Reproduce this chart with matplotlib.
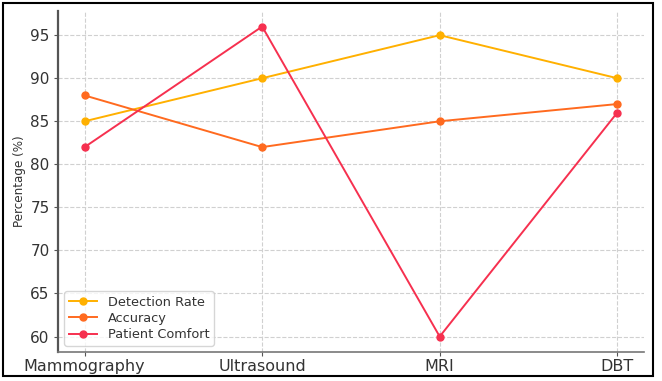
import matplotlib.pyplot as plt
from matplotlib.patches import Rectangle

# dados
modalidades = ["Mammography", "Ultrasound", "MRI", "DBT"]
deteccao = [85, 90, 95, 90]
acuracia = [88, 82, 85, 87]
conforto = [82, 96, 60, 86]

COR_DET = "#FFB000"
COR_ACU = "#FF6A1F"
COR_CONF = "#F6304F"

fig = plt.figure(figsize=(6.62, 3.81), dpi=100)
ax = fig.add_axes([0.0876, 0.076, 0.885, 0.895])

x = range(len(modalidades))
ax.plot(x, deteccao, '-o', color=COR_DET, lw=1.4, ms=5, label="Detection Rate")
ax.plot(x, acuracia, '-o', color=COR_ACU, lw=1.4, ms=5, label="Accuracy")
ax.plot(x, conforto, '-o', color=COR_CONF, lw=1.4, ms=5, label="Patient Comfort")

ax.set_xticks(list(x))
ax.set_xticklabels(modalidades, fontsize=11.5, color="#333333")
ax.set_yticks([60, 65, 70, 75, 80, 85, 90, 95])
ax.tick_params(axis='y', labelsize=11, colors="#555555", labelcolor="#333333",
               length=3, pad=3)
ax.tick_params(axis='x', colors="#555555", labelcolor="#333333", length=3, pad=2)
ax.set_ylabel("Percentage (%)", fontsize=9.5, color="#333333",
              fontstretch='condensed', labelpad=3)

ax.grid(True, linestyle='--', color="#d0d0d0", linewidth=0.8)
for lado in ['top', 'right']:
    ax.spines[lado].set_visible(False)
ax.spines['left'].set_color("#555555")
ax.spines['left'].set_linewidth(1.6)
ax.spines['bottom'].set_color("#777777")
ax.spines['bottom'].set_linewidth(1.2)

leg = ax.legend(loc='lower left', fontsize=9.3, frameon=True, borderpad=0.35,
                labelspacing=0.25, handlelength=2.2)
leg.get_frame().set_edgecolor("#cccccc")
for t in leg.get_texts():
    t.set_color("#333333")

# moldura preta em volta da figura
fig.patches.append(Rectangle((0.004, 0.012), 0.983, 0.98, transform=fig.transFigure,
                             fill=False, edgecolor='black', linewidth=1.5))

fig.savefig("out.png", dpi=100)
